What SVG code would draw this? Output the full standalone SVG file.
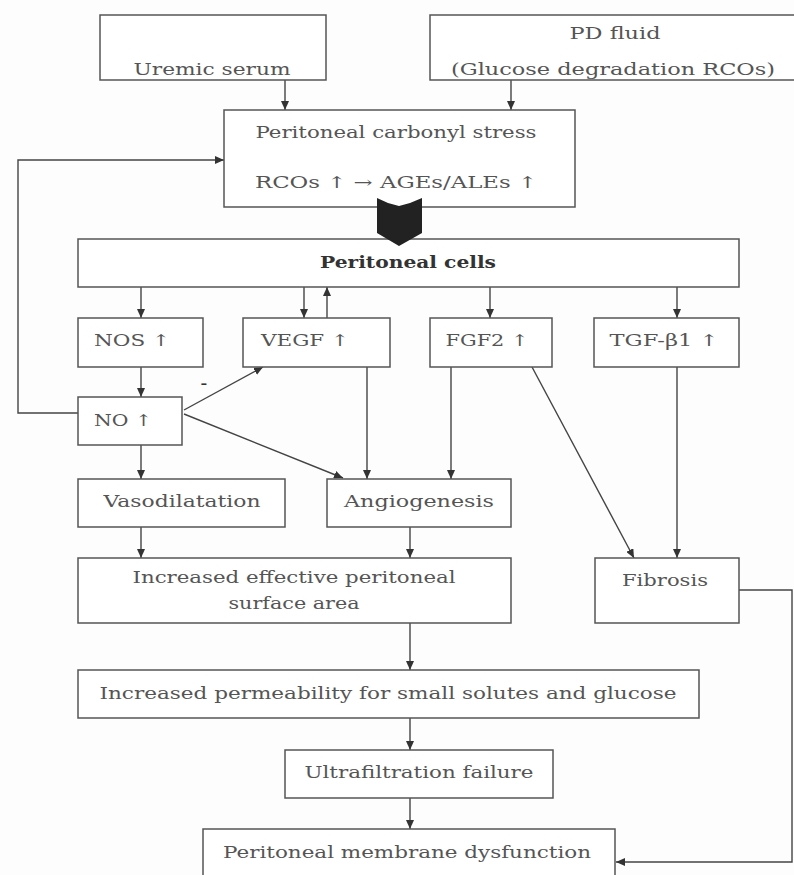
<svg xmlns="http://www.w3.org/2000/svg" width="794" height="875" viewBox="0 0 794 875">
<style>
.box{fill:#ffffff;stroke:#555;stroke-width:1.5}
.t{font-family:"DejaVu Serif","Liberation Serif",serif;font-size:16px;fill:#555;text-anchor:middle}
.b{font-weight:bold;fill:#333}
.c{fill:none;stroke:#444;stroke-width:1.4}
</style>
<defs>
<marker id="ah" markerUnits="userSpaceOnUse" markerWidth="9" markerHeight="8" refX="9" refY="4" orient="auto">
<path d="M0,0 L9,4 L0,8 z" fill="#333"/>
</marker>
</defs>
<rect width="794" height="875" fill="#fdfdfd"/>
<g id="connectors">
<path class="c" d="M285,80 V110" marker-end="url(#ah)"/>
<path class="c" d="M511,80 V110" marker-end="url(#ah)"/>
<path class="c" d="M78,413 H18 V160 H224" marker-end="url(#ah)"/>
<path class="c" d="M141,287 V318" marker-end="url(#ah)"/>
<path class="c" d="M304,287 V318" marker-end="url(#ah)"/>
<path class="c" d="M327,318 V287" marker-end="url(#ah)"/>
<path class="c" d="M490,287 V318" marker-end="url(#ah)"/>
<path class="c" d="M677,287 V318" marker-end="url(#ah)"/>
<path class="c" d="M141,367 V397" marker-end="url(#ah)"/>
<path class="c" d="M184,410 L263,367" marker-end="url(#ah)"/>
<path class="c" d="M184,414 L343,478" marker-end="url(#ah)"/>
<path class="c" d="M367,367 V479" marker-end="url(#ah)"/>
<path class="c" d="M451,367 V479" marker-end="url(#ah)"/>
<path class="c" d="M532,367 L634,558" marker-end="url(#ah)"/>
<path class="c" d="M677,367 V558" marker-end="url(#ah)"/>
<path class="c" d="M141,445 V479" marker-end="url(#ah)"/>
<path class="c" d="M141,527 V558" marker-end="url(#ah)"/>
<path class="c" d="M410,527 V558" marker-end="url(#ah)"/>
<path class="c" d="M410,623 V670" marker-end="url(#ah)"/>
<path class="c" d="M410,718 V750" marker-end="url(#ah)"/>
<path class="c" d="M410,798 V829" marker-end="url(#ah)"/>
<path class="c" d="M739,590 H792 V862 H616" marker-end="url(#ah)"/>
<text class="t" x="204" y="390" style="font-size:20px;fill:#333">-</text>
</g>
<g id="uremic"><rect class="box" x="100" y="15" width="226" height="65"/><text class="t" x="212" y="75" textLength="157" lengthAdjust="spacingAndGlyphs">Uremic serum</text></g>
<g id="pdfluid"><rect class="box" x="430" y="15" width="370" height="65"/><text class="t" x="615" y="39" textLength="91" lengthAdjust="spacingAndGlyphs">PD fluid</text><text class="t" x="613" y="75" textLength="324" lengthAdjust="spacingAndGlyphs">(Glucose degradation RCOs)</text></g>
<g id="carbonyl"><rect class="box" x="224" y="110" width="351" height="97"/><text class="t" x="396" y="138" textLength="281" lengthAdjust="spacingAndGlyphs">Peritoneal carbonyl stress</text><text class="t" x="396" y="188" textLength="282" lengthAdjust="spacingAndGlyphs">RCOs ↑ → AGEs/ALEs ↑</text></g>
<g id="cells"><rect class="box" x="78" y="239" width="661" height="48"/><text class="t b" x="408" y="268" textLength="176" lengthAdjust="spacingAndGlyphs">Peritoneal cells</text></g>
<g id="nos"><rect class="box" x="78" y="318" width="125" height="49"/><text class="t" x="132" y="346" textLength="76" lengthAdjust="spacingAndGlyphs">NOS ↑</text></g>
<g id="vegf"><rect class="box" x="243" y="318" width="147" height="49"/><text class="t" x="305" y="346" textLength="88" lengthAdjust="spacingAndGlyphs">VEGF ↑</text></g>
<g id="fgf2"><rect class="box" x="430" y="318" width="122" height="49"/><text class="t" x="487" y="346" textLength="83" lengthAdjust="spacingAndGlyphs">FGF2 ↑</text></g>
<g id="tgf"><rect class="box" x="594" y="318" width="145" height="49"/><text class="t" x="664" y="346" textLength="109" lengthAdjust="spacingAndGlyphs">TGF-β1 ↑</text></g>
<g id="no"><rect class="box" x="78" y="397" width="104" height="48"/><text class="t" x="123" y="426" textLength="58" lengthAdjust="spacingAndGlyphs">NO ↑</text></g>
<g id="vaso"><rect class="box" x="78" y="479" width="207" height="48"/><text class="t" x="182" y="507" textLength="157" lengthAdjust="spacingAndGlyphs">Vasodilatation</text></g>
<g id="angio"><rect class="box" x="327" y="479" width="184" height="48"/><text class="t" x="419" y="507" textLength="150" lengthAdjust="spacingAndGlyphs">Angiogenesis</text></g>
<g id="surface"><rect class="box" x="78" y="558" width="433" height="65"/><text class="t" x="294" y="583" textLength="323" lengthAdjust="spacingAndGlyphs">Increased effective peritoneal</text><text class="t" x="294" y="609" textLength="131" lengthAdjust="spacingAndGlyphs">surface area</text></g>
<g id="fibrosis"><rect class="box" x="595" y="558" width="144" height="65"/><text class="t" x="665" y="586" textLength="86" lengthAdjust="spacingAndGlyphs">Fibrosis</text></g>
<g id="perm"><rect class="box" x="78" y="670" width="621" height="48"/><text class="t" x="388" y="699" textLength="577" lengthAdjust="spacingAndGlyphs">Increased permeability for small solutes and glucose</text></g>
<g id="uf"><rect class="box" x="285" y="750" width="268" height="48"/><text class="t" x="419" y="778" textLength="229" lengthAdjust="spacingAndGlyphs">Ultrafiltration failure</text></g>
<g id="pmd"><rect class="box" x="203" y="829" width="412" height="50"/><text class="t" x="407" y="858" textLength="368" lengthAdjust="spacingAndGlyphs">Peritoneal membrane dysfunction</text></g>
<g id="block-arrow"><polygon points="377,198 388,203 399,206 410,203 422,198 422,233 399,246 377,233" fill="#222"/></g>
</svg>
